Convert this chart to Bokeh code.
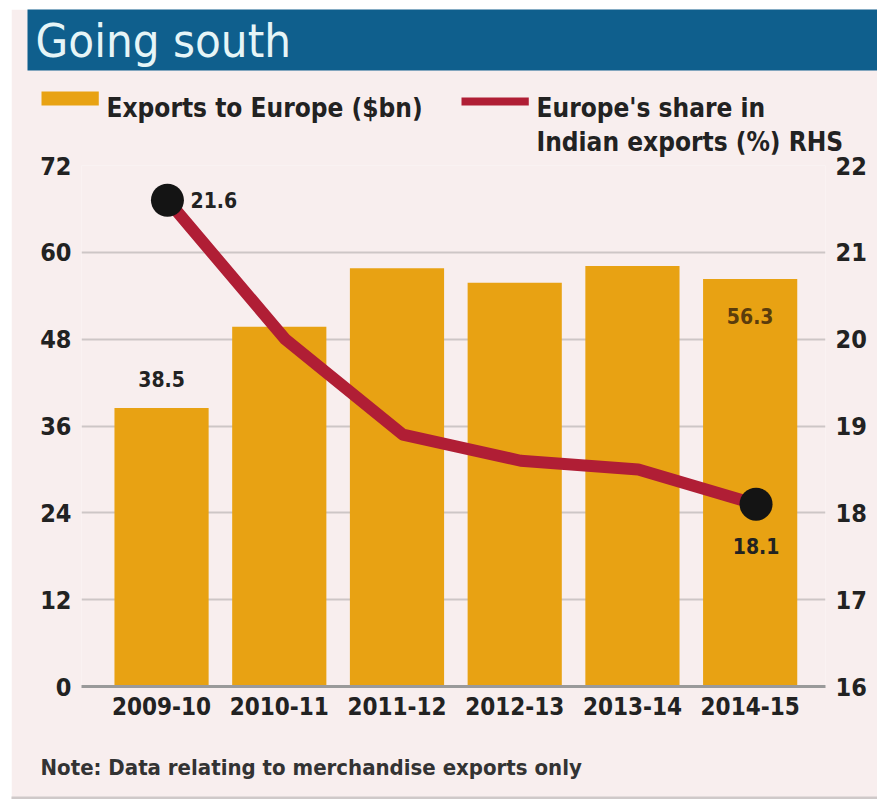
from bokeh.plotting import figure
from bokeh.models import (Range1d, LinearAxis, FixedTicker, ColumnDataSource, Spacer, Label)
from bokeh.layouts import column, row
from bokeh.transform import dodge
from bokeh.core.properties import value
from bokeh.embed import file_html
from bokeh.resources import INLINE

# ---- data ----
years = ["2009-10", "2010-11", "2011-12", "2012-13", "2013-14", "2014-15"]
exports_bn = [38.5, 49.7, 57.8, 55.8, 58.1, 56.3]
share_pct = [21.6, 20.0, 18.9, 18.6, 18.5, 18.1]
left_ticks = [0, 12, 24, 36, 48, 60, 72]
right_ticks = [16, 17, 18, 19, 20, 21, 22]

title_text = "Going south"
legend_bar = "Exports to Europe ($bn)"
legend_line = ["Europe's share in", "Indian exports (%) RHS"]
note_text = "Note: Data relating to merchandise exports only"

# ---- style ----
FONT = "DejaVu Sans Condensed"
BG = "#f8eeee"
TITLE_BG = "#0f5f8d"
BAR = "#e8a213"
RED = "#b01e35"
TXT = "#222222"
GRID = "#cdc6c6"

W, H = 866, 790
OX, OY = 11, 9                      # canvas origin on the page
FRAME_L, FRAME_R, FRAME_T, FRAME_B = 81, 825, 165, 686


def CX(px):
    return px - OX


def CY(py):
    return py - OY


src = ColumnDataSource(dict(x=list(range(len(years))), years=years,
                            exports=exports_bn, share=share_pct))
ends = ColumnDataSource(dict(x=[0, len(years) - 1],
                             share=[share_pct[0], share_pct[-1]]))

p = figure(width=W, height=H, x_range=Range1d(-0.68, 5.64), y_range=Range1d(0, 72),
           toolbar_location=None, output_backend="svg", title=None,
           min_border_left=FRAME_L - OX, min_border_right=OX + W - FRAME_R,
           min_border_top=FRAME_T - OY, min_border_bottom=OY + H - FRAME_B,
           outline_line_color=None, background_fill_color=BG, border_fill_color=BG)
p.extra_y_ranges = {"share": Range1d(16, 22)}

p.xgrid.visible = False
p.ygrid.ticker = FixedTicker(ticks=left_ticks)
p.ygrid.grid_line_color = GRID
p.ygrid.grid_line_width = 2

p.vbar(x="x", top="exports", width=0.8, source=src, color=BAR, line_color=None)
p.line(x=dodge("x", 0.05, range=p.x_range), y="share", source=src, y_range_name="share",
       line_color=RED, line_width=12, line_join="round", line_cap="round")
p.scatter(x=dodge("x", 0.05, range=p.x_range), y="share", source=ends, y_range_name="share",
          size=33, color="#141414", line_color=None)

lbl_font = value(FONT)
p.text(x=[src.data["x"][0]], y=[share_pct[0]], text=[f"{share_pct[0]}"], y_range_name="share",
       x_offset=29, text_baseline="middle", text_align="left", text_font=lbl_font,
       text_font_size="21px", text_font_style="bold", text_color=TXT)
p.text(x=[src.data["x"][-1] + 0.05], y=[share_pct[-1]], text=[f"{share_pct[-1]}"],
       y_range_name="share", y_offset=42, text_baseline="middle", text_align="center",
       text_font=lbl_font, text_font_size="21px", text_font_style="bold", text_color=TXT)
p.text(x=[src.data["x"][0]], y=[exports_bn[0]], text=[f"{exports_bn[0]}"], y_offset=-29,
       text_baseline="middle", text_align="center", text_font=lbl_font,
       text_font_size="21px", text_font_style="bold", text_color=TXT)
p.text(x=[src.data["x"][-1]], y=[exports_bn[-1]], text=[f"{exports_bn[-1]}"], y_offset=37,
       text_baseline="middle", text_align="center", text_font=lbl_font,
       text_font_size="21px", text_font_style="bold", text_color="#5a3c0c")

# axes
xa = p.xaxis[0]
xa.ticker = FixedTicker(ticks=list(range(len(years))))
xa.major_label_overrides = {i: y for i, y in enumerate(years)}
xa.axis_line_color = "#9a9a9a"
xa.axis_line_width = 3
xa.major_tick_line_color = None
xa.minor_tick_line_color = None
xa.major_tick_out = 0
xa.major_label_standoff = 10
xa.major_label_text_font = FONT
xa.major_label_text_font_size = "24px"
xa.major_label_text_font_style = "bold"
xa.major_label_text_color = TXT


def style_y(ax):
    ax.axis_line_color = None
    ax.major_tick_line_color = None
    ax.minor_tick_line_color = None
    ax.major_tick_out = 0
    ax.major_label_standoff = 10
    ax.major_label_text_font = FONT
    ax.major_label_text_font_size = "25px"
    ax.major_label_text_font_style = "bold"
    ax.major_label_text_color = TXT


ya = p.yaxis[0]
ya.ticker = FixedTicker(ticks=left_ticks)
style_y(ya)
ra = LinearAxis(y_range_name="share", ticker=FixedTicker(ticks=right_ticks))
style_y(ra)
p.add_layout(ra, "right")


# ---- header / legend / note: canvas-positioned labels in the side panels ----
def make_label(**kw):
    pad = kw.pop("pad", None)
    if pad is not None:
        t, r, b, l = pad
        try:
            return Label(padding=dict(left=l, right=r, top=t, bottom=b), **kw)
        except Exception:
            return Label(padding=(t, r, b, l), **kw)
    return Label(**kw)


def box(px, py, w, h, color):
    return make_label(x=CX(px), y=CY(py), x_units="canvas", y_units="canvas", text=" ",
                      text_font_size="1px", text_align="left", text_baseline="top",
                      anchor="top_left", background_fill_color=color,
                      background_fill_alpha=1.0, pad=(0, w, h, 0))


def txt(px, py, s, size, color=TXT, style="bold", baseline="alphabetic"):
    return Label(x=CX(px), y=CY(py), x_units="canvas", y_units="canvas", text=s,
                 text_font=FONT, text_font_size=size, text_font_style=style,
                 text_color=color, text_baseline=baseline, text_align="left")


# title bar with text (background padded out to the right edge)
title_lbl = make_label(x=CX(27), y=CY(9), x_units="canvas", y_units="canvas", text=title_text,
                       text_font=FONT, text_font_size="47px", text_color="#e6f5f7",
                       text_align="left", text_baseline="top", anchor="top_left",
                       background_fill_color=TITLE_BG, background_fill_alpha=1.0,
                       pad=(3, 640, 3, 8))
p.add_layout(title_lbl, "above")
p.add_layout(box(461, 97, 67, 7, RED), "above")
p.add_layout(txt(536, 107, legend_line[0], "26px"), "above")
p.add_layout(txt(536, 141, legend_line[1], "26px"), "above")

p.add_layout(box(41, 91, 57, 13, BAR), "below")
p.add_layout(txt(106, 107, legend_bar, "26px"), "below")
p.add_layout(txt(40, 767, note_text, "22px", color="#333333", baseline="middle"), "below")
p.add_layout(box(11, 796, 866, 2, "#cfc9c9"), "below")

layout = row(Spacer(width=OX, height=OY + H),
             column(Spacer(width=W, height=OY), p, spacing=0), spacing=0)

open("out.html", "w").write(file_html(layout, INLINE))
